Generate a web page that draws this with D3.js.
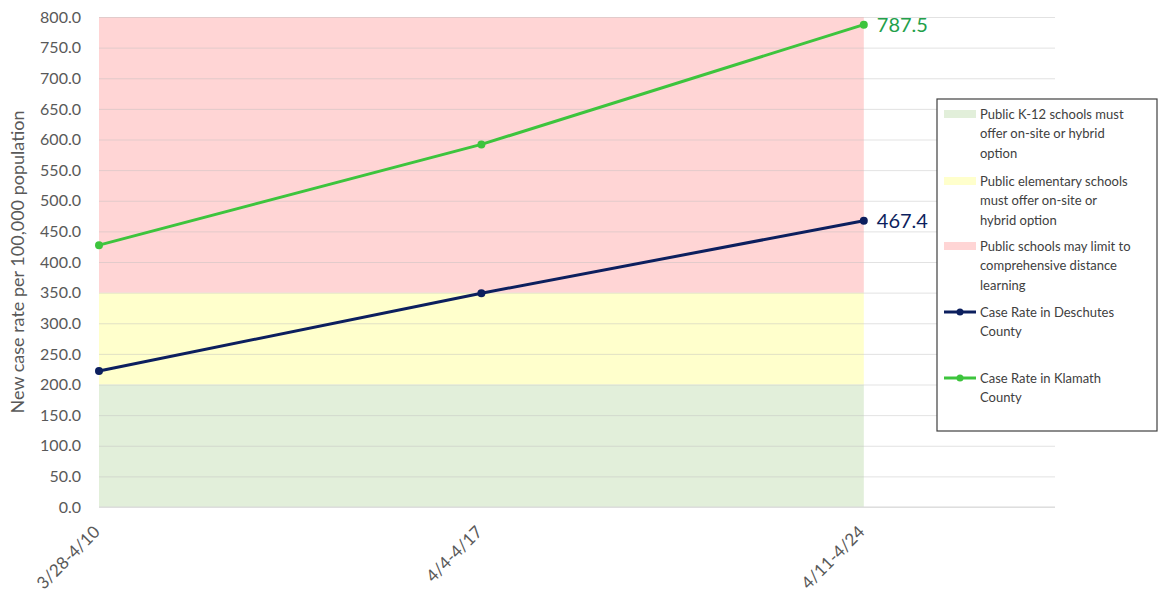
<!DOCTYPE html>
<html>
<head>
<meta charset="utf-8">
<script src="https://cdn.jsdelivr.net/npm/d3@7"></script>
<style>
  body { margin: 0; background: #fff; }
  text { font-family: Lato, "Open Sans", sans-serif; }
</style>
</head>
<body>
<div id="chart"></div>
<script>
const periods = ['3/28-4/10', '4/4-4/17', '4/11-4/24'];
const deschutes = [222.0, 349.0, 467.4];
const klamath = [427.5, 592.0, 787.5];
const bandNames = [
  'Public K-12 schools must offer on-site or hybrid option',
  'Public elementary schools must offer on-site or hybrid option',
  'Public schools may limit to comprehensive distance learning'
];
const bandLow = [0, 200, 350];
const bandHigh = [200, 350, 800];
const bandColors = ['#e2efda', '#ffffcc', '#ffd5d5'];
const yTicks = d3.range(0, 801, 50);

const width = 1159;
const height = 592;
const margin = { top: 17, right: 104, bottom: 85, left: 99 };

const svg = d3.select('#chart').append('svg')
    .attr('width', width)
    .attr('height', height);

const x = d3.scaleLinear()
    .domain([0, periods.length - 0.5])
    .range([margin.left, width - margin.right]);

const y = d3.scaleLinear()
    .domain([0, 800])
    .range([height - margin.bottom, margin.top]);

// threshold bands
svg.append('g').selectAll('rect')
    .data(bandLow)
  .enter()
    .append('rect')
    .attr('x', x(0))
    .attr('width', x(periods.length - 1) - x(0))
    .attr('y', (d, i) => y(bandHigh[i]))
    .attr('height', (d, i) => y(d) - y(bandHigh[i]))
    .style('fill', (d, i) => bandColors[i]);

// gridlines
const yAxis = d3.axisLeft(y)
    .tickValues(yTicks)
    .tickSize(-(x.range()[1] - x.range()[0]))
    .tickFormat((d) => d.toFixed(1));

const yg = svg.append('g')
    .attr('transform', `translate(${margin.left},0)`)
    .call(yAxis);
yg.select('.domain').remove();
yg.selectAll('.tick line')
    .style('stroke', '#bfbfbf')
    .style('stroke-opacity', 0.45);
yg.selectAll('.tick text')
    .attr('x', -18)
    .style('font-size', '16px')
    .style('fill', '#595959');

// baseline
svg.append('line')
    .attr('x1', x.range()[0])
    .attr('x2', x.range()[1])
    .attr('y1', y(0))
    .attr('y2', y(0))
    .style('stroke', '#d9d9d9');

// y title
svg.append('text')
    .attr('transform', `translate(24, ${(y(0) + y(800)) / 2}) rotate(-90)`)
    .style('text-anchor', 'middle')
    .style('font-size', '18px')
    .style('fill', '#595959')
    .text('New case rate per 100,000 population');

// x labels
svg.append('g').selectAll('text')
    .data(periods)
  .enter()
    .append('text')
    .attr('transform', (d, i) => `translate(${x(i) + 2}, ${y(0) + 26}) rotate(-45)`)
    .style('text-anchor', 'end')
    .style('font-size', '17px')
    .style('fill', '#595959')
    .text((d) => d);

// lines
const series = [
  { name: 'Case Rate in Deschutes County', values: deschutes, color: '#0c1f5e', label: '#0c1f5e' },
  { name: 'Case Rate in Klamath County', values: klamath, color: '#3dc43d', label: '#23a04a' }
];

const line = d3.line()
    .x((d, i) => x(i))
    .y((d) => y(d));

series.forEach((s) => {
  svg.append('path')
      .datum(s.values)
      .attr('d', line)
      .style('fill', 'none')
      .style('stroke', s.color)
      .style('stroke-width', 3);
  svg.append('g').selectAll('circle')
      .data(s.values)
    .enter()
      .append('circle')
      .attr('cx', (d, i) => x(i))
      .attr('cy', (d) => y(d))
      .attr('r', 4)
      .style('fill', s.color);
  const last = s.values.length - 1;
  svg.append('text')
      .attr('x', x(last) + 13)
      .attr('y', y(s.values[last]))
      .attr('dy', '0.35em')
      .style('font-size', '20px')
      .style('fill', s.label)
      .text(s.values[last].toFixed(1));
});

// legend
const legend = svg.append('g')
    .attr('transform', 'translate(937, 99)');
legend.append('rect')
    .attr('width', 220)
    .attr('height', 332)
    .style('fill', '#fff')
    .style('stroke', '#404040')
    .style('stroke-width', 1.2);

const legendItems = [
  { lines: ['Public K-12 schools must', 'offer on-site or hybrid', 'option'], kind: 'band', color: bandColors[0], y: 15 },
  { lines: ['Public elementary schools', 'must offer on-site or', 'hybrid option'], kind: 'band', color: bandColors[1], y: 82 },
  { lines: ['Public schools may limit to', 'comprehensive distance', 'learning'], kind: 'band', color: bandColors[2], y: 147 },
  { lines: ['Case Rate in Deschutes', 'County'], kind: 'line', color: series[0].color, y: 213 },
  { lines: ['Case Rate in Klamath', 'County'], kind: 'line', color: series[1].color, y: 279 }
];

legendItems.forEach((item) => {
  const g = legend.append('g').attr('transform', `translate(0, ${item.y})`);
  if (item.kind === 'band') {
    g.append('rect')
        .attr('x', 7)
        .attr('y', -4)
        .attr('width', 32)
        .attr('height', 8)
        .style('fill', item.color);
  } else {
    g.append('line')
        .attr('x1', 7)
        .attr('x2', 39)
        .style('stroke', item.color)
        .style('stroke-width', 3);
    g.append('circle')
        .attr('cx', 23)
        .attr('r', 3.5)
        .style('fill', item.color);
  }
  g.selectAll('text')
      .data(item.lines)
    .enter()
      .append('text')
      .attr('x', 43)
      .attr('y', (d, i) => i * 19.5)
      .attr('dy', '0.35em')
      .style('font-size', '13px')
      .style('fill', '#404040')
      .text((d) => d);
});
</script>
</body>
</html>
